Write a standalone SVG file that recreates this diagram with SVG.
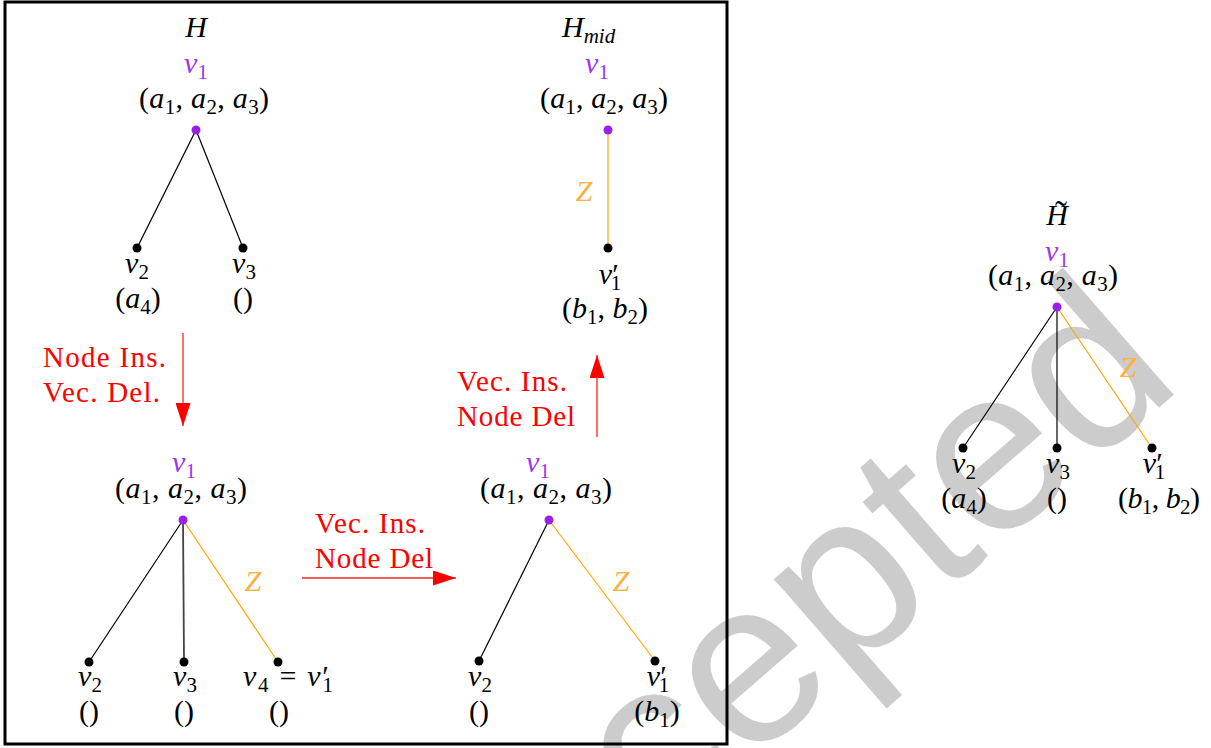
<svg xmlns="http://www.w3.org/2000/svg" width="1211" height="748" viewBox="0 0 1211 748">
<style>
.m{font-family:"Liberation Serif",serif;font-size:30px;fill:#000}
.i{font-style:italic}
.s{font-size:21px;baseline-shift:-6px;font-style:normal}
.si{font-size:21px;baseline-shift:-6px;font-style:italic}
.p{font-size:30px;font-style:normal}
.pu{fill:#a035f0}
.or{fill:#fbb040}
.red{font-family:"Liberation Serif",serif;font-size:29px;fill:#ff0000}
.e{stroke:#000;stroke-width:1.2;fill:none}
.eo{stroke:#ffa500;stroke-width:1.2;fill:none}
.ar{stroke:#ff2020;stroke-width:1.3;fill:none}
.dot{fill:#000}
.dp{fill:#9b1fe8}
.wm{font-family:"Liberation Sans",Arial,sans-serif;font-size:233px;fill:#cccccc}
</style>
<defs>
<marker id="ahb" viewBox="0 0 23 15" refX="23" refY="7.5" markerWidth="23" markerHeight="15" markerUnits="userSpaceOnUse" orient="auto">
<path d="M0,0 L23,7.5 L0,15 Z" fill="#ff0000"/>
</marker>
</defs>
<rect width="1211" height="748" fill="#fff"/>
<text class="wm" x="0" y="0" transform="translate(452,1022) rotate(-41)">Accepted</text>
<rect x="5" y="2" width="722" height="742" fill="none" stroke="#000" stroke-width="3"/>

<g id="connectors">
<line class="e" x1="196" y1="130" x2="137" y2="248"/>
<line class="e" x1="196" y1="130" x2="243" y2="248"/>
<line class="eo" x1="608" y1="130" x2="608" y2="248"/>
<line class="e" x1="183" y1="520" x2="89" y2="662"/>
<line class="e" x1="183" y1="520" x2="184" y2="662" style="stroke:#444;stroke-width:1.8"/>
<line class="eo" x1="183" y1="520" x2="278" y2="662"/>
<line class="e" x1="549" y1="520" x2="479" y2="661"/>
<line class="eo" x1="549" y1="520" x2="655" y2="661"/>
<line class="e" x1="1057" y1="307" x2="963" y2="448"/>
<line class="e" x1="1057" y1="307" x2="1057" y2="448"/>
<line class="eo" x1="1057" y1="307" x2="1152" y2="448"/>
<line class="ar" x1="183" y1="333" x2="183" y2="426" marker-end="url(#ahb)"/>
<line class="ar" x1="302" y1="578" x2="456" y2="578" marker-end="url(#ahb)"/>
<line class="ar" x1="597" y1="437" x2="597" y2="355" marker-end="url(#ahb)"/>
<text class="red" x="43" y="367" textLength="123">Node Ins.</text>
<text class="red" x="43" y="402" textLength="117">Vec.  Del.</text>
<text class="red" x="315" y="533" textLength="110">Vec.  Ins.</text>
<text class="red" x="315" y="568" textLength="118">Node Del</text>
<text class="red" x="457" y="391" textLength="110">Vec.  Ins.</text>
<text class="red" x="457" y="426" textLength="118">Node Del</text>
<text class="m i or" x="253" y="591" text-anchor="middle">Z</text>
<text class="m i or" x="584" y="201" text-anchor="middle">Z</text>
<text class="m i or" x="621" y="591" text-anchor="middle">Z</text>
<text class="m i or" x="1128" y="377" text-anchor="middle">Z</text>
</g>

<g id="H">
<text class="m i" x="196" y="37" text-anchor="middle">H</text>
</g>
<g id="H-v1">
<circle class="dp" cx="196" cy="130" r="4.5"/>
<text class="m pu" x="196" y="73" text-anchor="middle"><tspan class="i">v</tspan><tspan class="s">1</tspan></text>
<text class="m" x="204" y="108" text-anchor="middle" textLength="130">(<tspan class="i">a</tspan><tspan class="s">1</tspan>, <tspan class="i">a</tspan><tspan class="s">2</tspan>, <tspan class="i">a</tspan><tspan class="s">3</tspan>)</text>
</g>
<g id="H-v2">
<circle class="dot" cx="137" cy="248" r="4.5"/>
<text class="m" x="137" y="273" text-anchor="middle"><tspan class="i">v</tspan><tspan class="s">2</tspan></text>
<text class="m" x="138" y="308" text-anchor="middle">(<tspan class="i">a</tspan><tspan class="s">4</tspan>)</text>
</g>
<g id="H-v3">
<circle class="dot" cx="243" cy="248" r="4.5"/>
<text class="m" x="244" y="273" text-anchor="middle"><tspan class="i">v</tspan><tspan class="s">3</tspan></text>
<text class="m" x="243" y="308" text-anchor="middle">()</text>
</g>

<g id="Hmid">
<text class="m" x="562" y="37"><tspan class="i">H</tspan><tspan class="si">mid</tspan></text>
</g>
<g id="Hmid-v1">
<circle class="dp" cx="608" cy="130" r="4.5"/>
<text class="m pu" x="597" y="73" text-anchor="middle"><tspan class="i">v</tspan><tspan class="s">1</tspan></text>
<text class="m" x="604" y="108" text-anchor="middle" textLength="128">(<tspan class="i">a</tspan><tspan class="s">1</tspan>, <tspan class="i">a</tspan><tspan class="s">2</tspan>, <tspan class="i">a</tspan><tspan class="s">3</tspan>)</text>
</g>
<g id="Hmid-v1p">
<circle class="dot" cx="608" cy="248" r="4.5"/>
<text class="m" x="610" y="284" text-anchor="middle"><tspan class="i">v</tspan><tspan class="p">′</tspan><tspan class="s" dx="-8">1</tspan></text>
<text class="m" x="605" y="318" text-anchor="middle" textLength="86">(<tspan class="i">b</tspan><tspan class="s">1</tspan>, <tspan class="i">b</tspan><tspan class="s">2</tspan>)</text>
</g>

<g id="A-v1">
<circle class="dp" cx="183" cy="520" r="4.5"/>
<text class="m pu" x="184" y="472" text-anchor="middle"><tspan class="i">v</tspan><tspan class="s">1</tspan></text>
<text class="m" x="181" y="498" text-anchor="middle" textLength="132">(<tspan class="i">a</tspan><tspan class="s">1</tspan>, <tspan class="i">a</tspan><tspan class="s">2</tspan>, <tspan class="i">a</tspan><tspan class="s">3</tspan>)</text>
</g>
<g id="A-v2">
<circle class="dot" cx="89" cy="662" r="4.5"/>
<text class="m" x="90" y="686" text-anchor="middle"><tspan class="i">v</tspan><tspan class="s">2</tspan></text>
<text class="m" x="89" y="721" text-anchor="middle">()</text>
</g>
<g id="A-v3">
<circle class="dot" cx="184" cy="662" r="4.5"/>
<text class="m" x="185" y="686" text-anchor="middle"><tspan class="i">v</tspan><tspan class="s">3</tspan></text>
<text class="m" x="184" y="721" text-anchor="middle">()</text>
</g>
<g id="A-v4">
<circle class="dot" cx="278" cy="662" r="4.5"/>
<text class="m" x="243" y="686" textLength="90"><tspan class="i">v</tspan><tspan class="s">4</tspan> = <tspan class="i">v</tspan><tspan class="p">′</tspan><tspan class="s" dx="-8">1</tspan></text>
<text class="m" x="279" y="721" text-anchor="middle">()</text>
</g>

<g id="B-v1">
<circle class="dp" cx="549" cy="520" r="4.5"/>
<text class="m pu" x="538" y="472" text-anchor="middle"><tspan class="i">v</tspan><tspan class="s">1</tspan></text>
<text class="m" x="546" y="498" text-anchor="middle" textLength="132">(<tspan class="i">a</tspan><tspan class="s">1</tspan>, <tspan class="i">a</tspan><tspan class="s">2</tspan>, <tspan class="i">a</tspan><tspan class="s">3</tspan>)</text>
</g>
<g id="B-v2">
<circle class="dot" cx="479" cy="661" r="4.5"/>
<text class="m" x="480" y="686" text-anchor="middle"><tspan class="i">v</tspan><tspan class="s">2</tspan></text>
<text class="m" x="479" y="721" text-anchor="middle">()</text>
</g>
<g id="B-v1p">
<circle class="dot" cx="655" cy="661" r="4.5"/>
<text class="m" x="658" y="686" text-anchor="middle"><tspan class="i">v</tspan><tspan class="p">′</tspan><tspan class="s" dx="-8">1</tspan></text>
<text class="m" x="657" y="721" text-anchor="middle">(<tspan class="i">b</tspan><tspan class="s">1</tspan>)</text>
</g>

<g id="Ht">
<text class="m i" x="1057" y="225" text-anchor="middle">H</text>
<text class="m" x="1061" y="226" text-anchor="middle" style="font-size:36px">˜</text>
</g>
<g id="Ht-v1">
<circle class="dp" cx="1057" cy="307" r="4.5"/>
<text class="m pu" x="1057" y="261" text-anchor="middle"><tspan class="i">v</tspan><tspan class="s">1</tspan></text>
<text class="m" x="1053" y="285" text-anchor="middle" textLength="130">(<tspan class="i">a</tspan><tspan class="s">1</tspan>, <tspan class="i">a</tspan><tspan class="s">2</tspan>, <tspan class="i">a</tspan><tspan class="s">3</tspan>)</text>
</g>
<g id="Ht-v2">
<circle class="dot" cx="963" cy="448" r="4.5"/>
<text class="m" x="964" y="473" text-anchor="middle"><tspan class="i">v</tspan><tspan class="s">2</tspan></text>
<text class="m" x="964" y="508" text-anchor="middle">(<tspan class="i">a</tspan><tspan class="s">4</tspan>)</text>
</g>
<g id="Ht-v3">
<circle class="dot" cx="1057" cy="448" r="4.5"/>
<text class="m" x="1058" y="473" text-anchor="middle"><tspan class="i">v</tspan><tspan class="s">3</tspan></text>
<text class="m" x="1057" y="508" text-anchor="middle">()</text>
</g>
<g id="Ht-v1p">
<circle class="dot" cx="1152" cy="448" r="4.5"/>
<text class="m" x="1154" y="473" text-anchor="middle"><tspan class="i">v</tspan><tspan class="p">′</tspan><tspan class="s" dx="-8">1</tspan></text>
<text class="m" x="1159" y="508" text-anchor="middle" textLength="82">(<tspan class="i">b</tspan><tspan class="s">1</tspan>, <tspan class="i">b</tspan><tspan class="s">2</tspan>)</text>
</g>
</svg>
